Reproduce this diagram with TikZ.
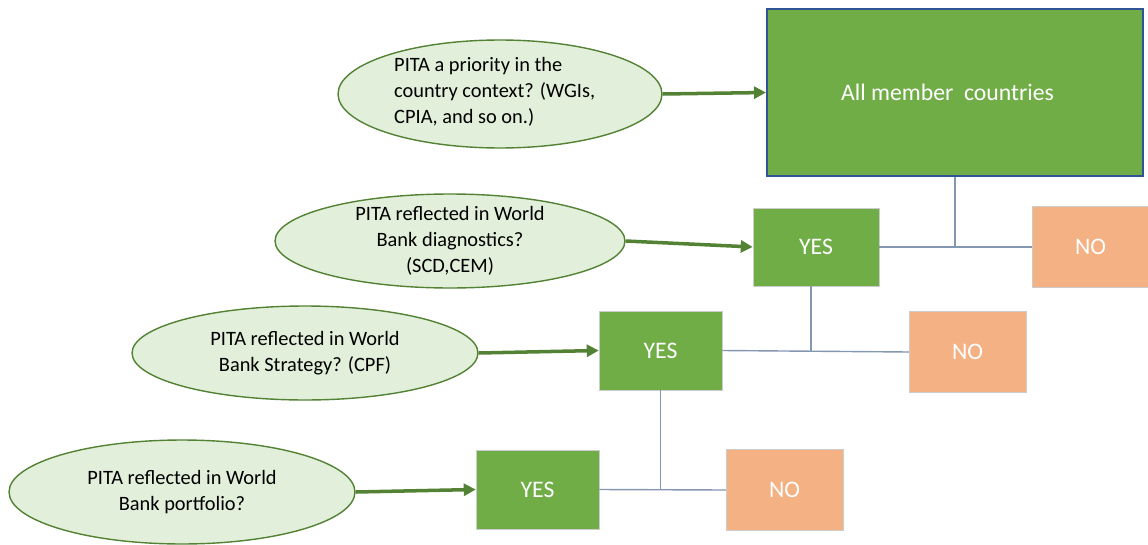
\documentclass[tikz,border=0pt]{standalone}
\usepackage{fontspec}
\setmainfont{Carlito}
\usepackage{xcolor}
\usepackage{tikz}
\usetikzlibrary{arrows.meta,shapes.geometric}

\definecolor{leaf}{HTML}{70AD47}
\definecolor{leafdark}{HTML}{548235}
\definecolor{leaflight}{HTML}{E2EFDA}
\definecolor{peach}{HTML}{F4B183}
\definecolor{navy}{HTML}{2F5597}
\definecolor{slate}{HTML}{8497B0}

\begin{document}
\begin{tikzpicture}[
  x=0.02cm, y=-0.02cm,
  question/.style={ellipse, draw=leafdark, line width=0.8pt, fill=leaflight, inner sep=0pt},
  qtext/.style={align=center, font=\fontsize{11.6}{14.8}\selectfont},
  yes/.style={rectangle, fill=leaf, draw=gray!40, line width=0.3pt, text=white, font=\fontsize{13.5}{16}\selectfont},
  no/.style={rectangle, fill=peach, draw=gray!40, line width=0.3pt, text=white, font=\fontsize{13.5}{16}\selectfont, minimum width=2.34cm, minimum height=1.62cm},
  arrow/.style={-{Triangle[length=2.4mm, width=2.4mm]}, draw=leafdark, line width=2pt},
  link/.style={draw=slate, line width=0.8pt}
]
\useasboundingbox (0,0) rectangle (1148,544);

% Root
\node[yes, draw=navy, line width=1.2pt, minimum width=7.52cm, minimum height=3.34cm] (all) at (955,92.5) {All member\ \ countries\hspace*{0.3cm}};

% Answers
\node[yes, minimum width=2.52cm, minimum height=1.56cm] (yes1) at (816,247) {YES};
\node[no] (no1) at (1090.5,247) {NO};
\node[yes, minimum width=2.46cm, minimum height=1.58cm] (yes2) at (660.5,350.5) {YES};
\node[no] (no2) at (967.5,352) {NO};
\node[yes, minimum width=2.46cm, minimum height=1.58cm] (yes3) at (537.5,489.5) {YES};
\node[no] (no3) at (784.5,490) {NO};

% Questions
\node[question, minimum width=6.48cm, minimum height=2.16cm] (q1) at (500,94) {};
\node[qtext, align=left, anchor=west] (q1text) at (388,92) {PITA a priority in the\\country context? (WGIs,\\CPIA, and so on.)};
\node[question, minimum width=7.0cm, minimum height=1.88cm] (q2) at (450,241) {};
\node[qtext] (q2text) at (q2) {PITA reflected in World\\Bank diagnostics?\\(SCD,CEM)};
\node[question, minimum width=6.92cm, minimum height=1.88cm] (q3) at (305,353) {};
\node[qtext] (q3text) at (q3) {PITA reflected in World\\Bank Strategy? (CPF)};
\node[question, minimum width=6.92cm, minimum height=2.08cm] (q4) at (182,492) {};
\node[qtext] (q4text) at (q4) {PITA reflected in World\\Bank portfolio?};

% Arrows
\draw[arrow] (q1.east) -- (all.west);
\draw[arrow] (q2.east) -- (yes1.west);
\draw[arrow] (q3.east) -- (yes2.west);
\draw[arrow] (q4.east) -- (yes3.west);

% Branches
\draw[link] (all.south) -- (all.south |- yes1.east);
\draw[link] (yes1.east) -- (no1.west);
\draw[link] ([xshift=-0.1cm]yes1.south) -- ([xshift=-0.1cm]yes1.south |- yes2.east);
\draw[link] (yes2.east) -- (no2.west);
\draw[link] (yes2.south) -- (yes2.south |- yes3.east);
\draw[link] (yes3.east) -- (no3.west);

\end{tikzpicture}
\end{document}
